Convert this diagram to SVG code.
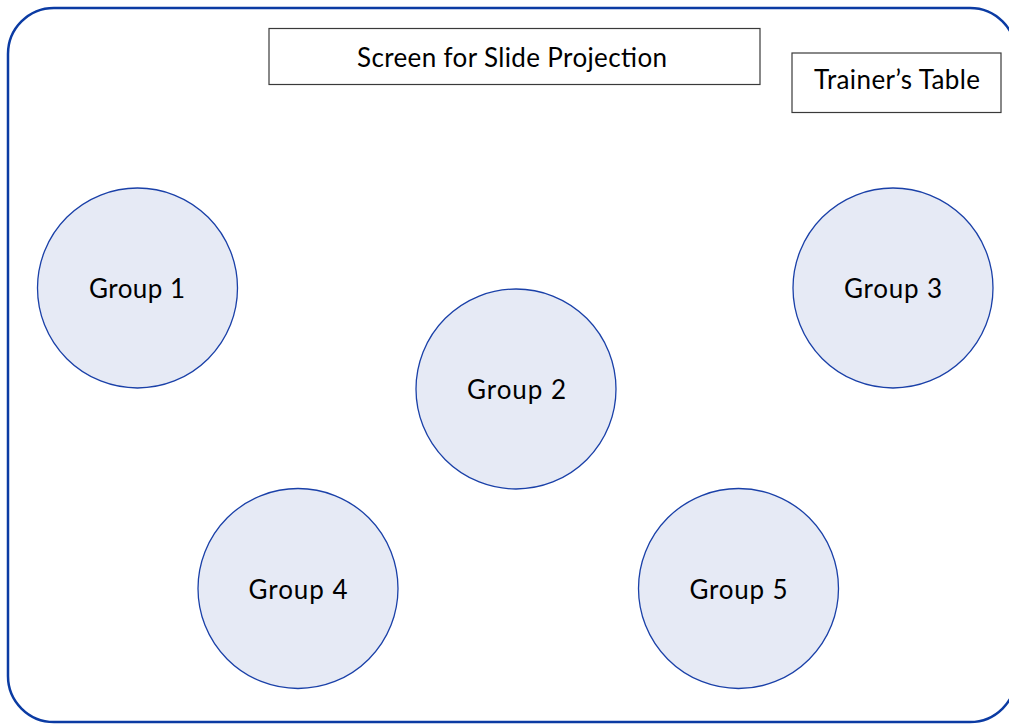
<svg xmlns="http://www.w3.org/2000/svg" width="1009" height="724" viewBox="0 0 1009 724">
<style>
.room{fill:#ffffff;stroke:#0b3ba3;stroke-width:2.5}
.box{fill:#ffffff;stroke:#3a3a3a;stroke-width:1.2}
.table{fill:#e6eaf5;stroke:#1a40a8;stroke-width:1.3}
.lbl{font-family:Lato,"Liberation Sans",sans-serif;font-size:26px;font-weight:400;fill:#000000;text-anchor:middle}
</style>
<rect width="1009" height="724" fill="#ffffff"/>
<rect class="room" x="8" y="8" width="1008" height="714" rx="46" ry="46"/>
<g id="screen">
<rect class="box" x="269" y="28.5" width="491" height="56"/>
<text class="lbl" x="512" y="67" textLength="310" lengthAdjust="spacing">Screen for Slide Projection</text>
</g>
<g id="trainer">
<rect class="box" x="792" y="53" width="209" height="59.5"/>
<text class="lbl" x="897" y="89" textLength="166" lengthAdjust="spacing">Trainer’s Table</text>
</g>
<g id="group1">
<circle class="table" cx="137.5" cy="288" r="100"/>
<text class="lbl" x="137" y="298" textLength="96" lengthAdjust="spacing">Group 1</text>
</g>
<g id="group2">
<circle class="table" cx="516" cy="389" r="100"/>
<text class="lbl" x="516.5" y="399" textLength="99" lengthAdjust="spacing">Group 2</text>
</g>
<g id="group3">
<circle class="table" cx="893" cy="288" r="100"/>
<text class="lbl" x="893" y="298" textLength="98" lengthAdjust="spacing">Group 3</text>
</g>
<g id="group4">
<circle class="table" cx="298" cy="588.5" r="100"/>
<text class="lbl" x="298" y="599" textLength="99" lengthAdjust="spacing">Group 4</text>
</g>
<g id="group5">
<circle class="table" cx="738.5" cy="588.5" r="100"/>
<text class="lbl" x="738.5" y="599" textLength="98" lengthAdjust="spacing">Group 5</text>
</g>
<g id="connectors"></g>
</svg>
